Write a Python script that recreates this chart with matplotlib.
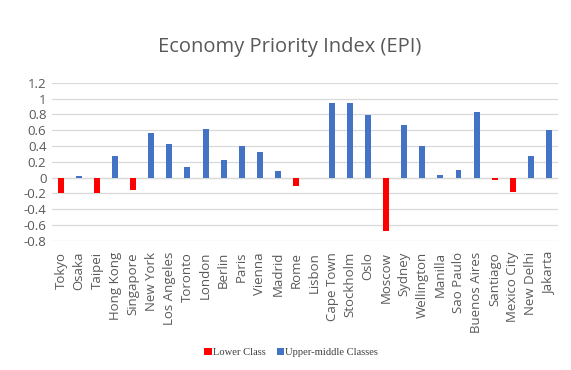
import matplotlib
matplotlib.use("Agg")
import matplotlib.pyplot as plt
from matplotlib.patches import Patch
import numpy as np

cities = ["Tokyo", "Osaka", "Taipei", "Hong Kong", "Singapore", "New York", "Los Angeles",
          "Toronto", "London", "Berlin", "Paris", "Vienna", "Madrid", "Rome", "Lisbon",
          "Cape Town", "Stockholm", "Oslo", "Moscow", "Sydney", "Wellington", "Manilla",
          "Sao Paulo", "Buenos Aires", "Santiago", "Mexico City", "New Delhi", "Jakarta"]
epi = [-0.20, 0.025, -0.20, 0.28, -0.15, 0.57, 0.43,
       0.13, 0.62, 0.22, 0.405, 0.33, 0.09, -0.10, 0.0,
       0.95, 0.94, 0.79, -0.68, 0.67, 0.40, 0.04,
       0.10, 0.83, -0.03, -0.185, 0.28, 0.60]
classes = ["Lower", "Upper", "Lower", "Upper", "Lower", "Upper", "Upper",
           "Upper", "Upper", "Upper", "Upper", "Upper", "Upper", "Lower", "Upper",
           "Upper", "Upper", "Upper", "Lower", "Upper", "Upper", "Upper",
           "Upper", "Upper", "Lower", "Lower", "Upper", "Upper"]
yticks = [-0.8, -0.6, -0.4, -0.2, 0, 0.2, 0.4, 0.6, 0.8, 1, 1.2]
ytick_labels = ["-0.8", "-0.6", "-0.4", "-0.2", "0", "0.2", "0.4", "0.6", "0.8", "1", "1.2"]
legend_labels = ["Lower Class", "Upper-middle Classes"]

RED = "#FF0000"
BLUE = "#4472C4"
GRAY = "#595959"

fig = plt.figure(figsize=(5.71, 3.70), dpi=100)
ax = fig.add_axes([0.091, 0.349, 0.886, 0.427])

x = np.arange(len(cities))
colors = [RED if c == "Lower" else BLUE for c in classes]
ax.bar(x, epi, width=0.33, color=colors, zorder=3)

ax.set_xlim(-0.5, len(cities) - 0.5)
ax.set_ylim(-0.8, 1.2)
ax.set_yticks(yticks)
ax.set_yticklabels(ytick_labels, fontsize=9.5, color=GRAY, family="Open Sans")
ax.set_xticks(x)
ax.set_xticklabels(cities, rotation=90, fontsize=9.5, color=GRAY, family="Open Sans")
ax.tick_params(axis="both", length=0, pad=4)
ax.tick_params(axis="x", pad=8)
ax.yaxis.grid(True, color="#D9D9D9", linewidth=0.9, zorder=0)
ax.axhline(0, color="#D9D9D9", linewidth=0.9, zorder=1)
for s in ax.spines.values():
    s.set_visible(False)

fig.text(0.508, 0.873, "Economy Priority Index (EPI)", ha="center", va="center",
         fontsize=14.5, color=GRAY, family="Open Sans")

handles = [Patch(facecolor=RED), Patch(facecolor=BLUE)]
fig.legend(handles, legend_labels, loc="center", bbox_to_anchor=(0.51, 0.048),
           ncol=2, frameon=False, prop={"family": "Liberation Serif", "size": 7.6},
           handlelength=0.7, handleheight=0.7, handletextpad=0.1, columnspacing=1.1,
           labelcolor="#404040")

fig.savefig("out.png", dpi=100, facecolor="white")
